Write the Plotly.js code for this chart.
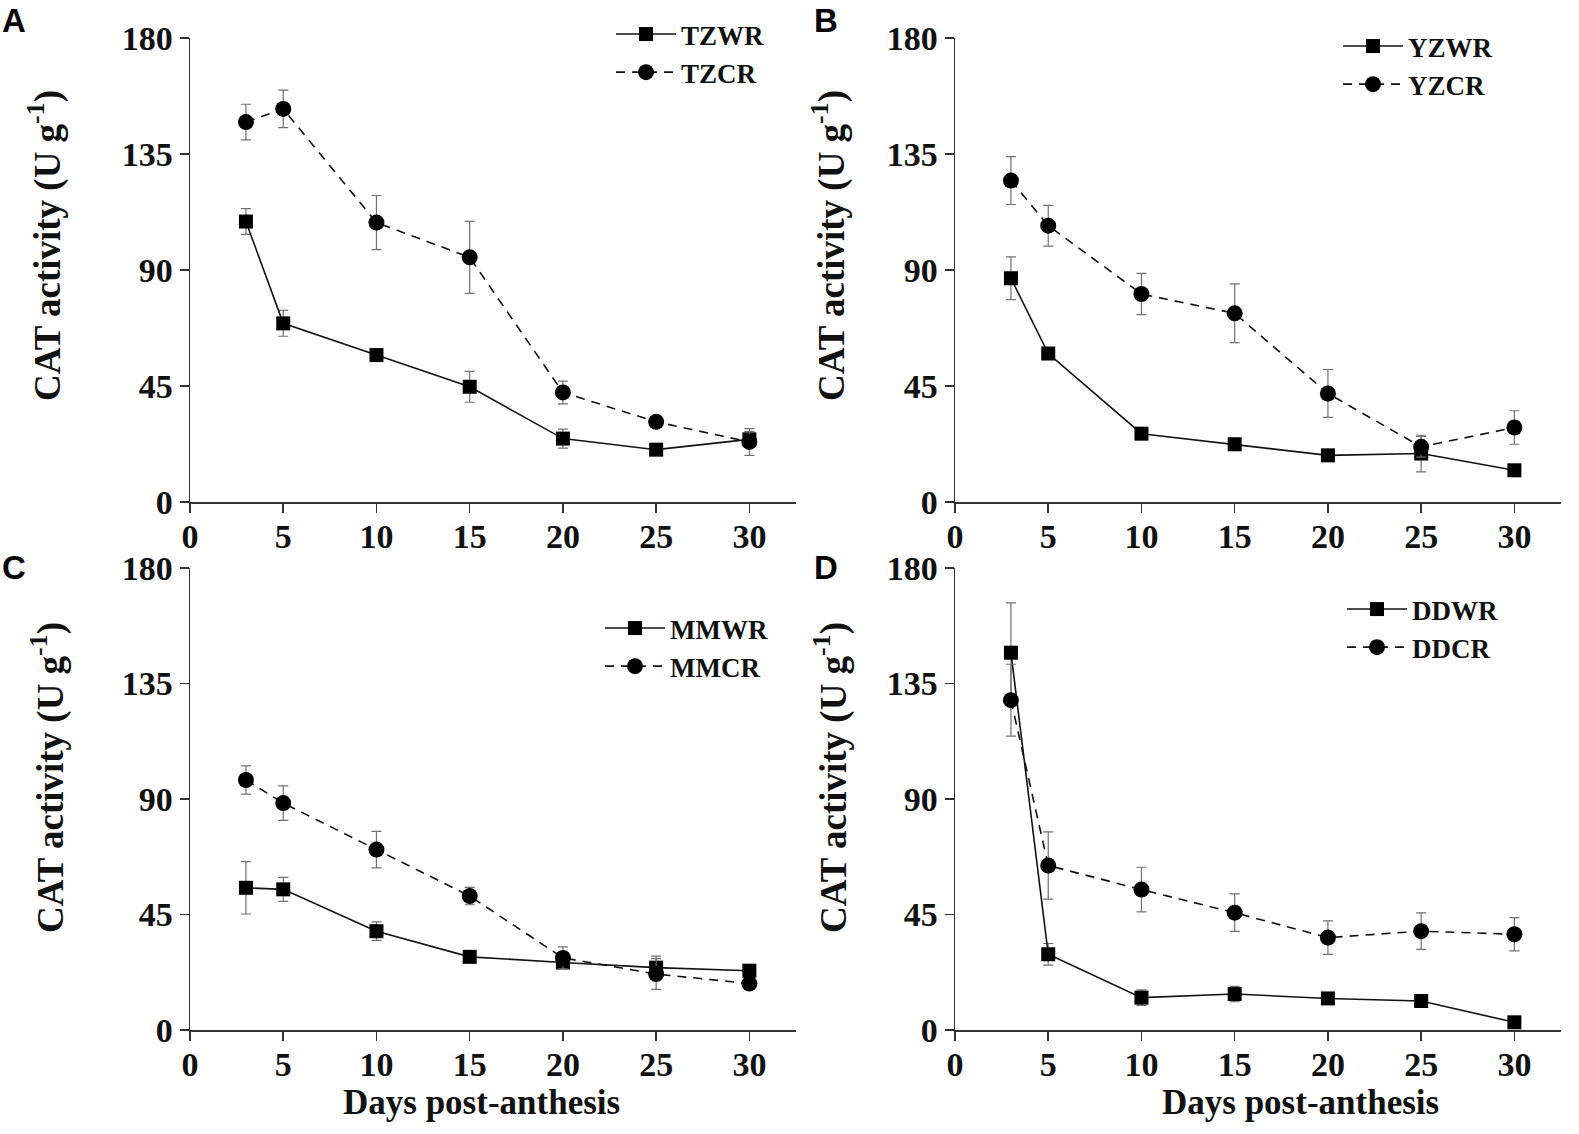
<!DOCTYPE html>
<html>
<head>
<meta charset="utf-8">
<script src="https://cdn.plot.ly/plotly-3.0.1.min.js"></script>
<style>html,body{margin:0;padding:0;background:#fff;}#chart{width:1579px;height:1134px;}</style>
</head>
<body>
<div id="chart"></div>
<script>
// Days post-anthesis
const days = [3, 5, 10, 15, 20, 25, 30];
const xTicks = [0, 5, 10, 15, 20, 25, 30];
const yTicks = [0, 45, 90, 135, 180];

// Panel A
const tzwr = [108.8, 69.3, 57.0, 44.7, 24.6, 20.3, 24.3];
const tzwrErr = [5.0, 5.0, 1.5, 6.0, 3.7, 1.5, 3.0];
const tzcr = [147.4, 152.5, 108.4, 94.9, 42.5, 31.1, 23.3];
const tzcrErr = [6.9, 7.3, 10.5, 14.0, 4.4, 1.5, 5.2];

// Panel B
const yzwr = [86.8, 57.6, 26.5, 22.4, 18.1, 18.8, 12.3];
const yzwrErr = [8.3, 2.0, 2.0, 1.5, 1.5, 7.1, 2.0];
const yzcr = [124.7, 107.2, 80.7, 73.2, 42.1, 21.4, 28.9];
const yzcrErr = [9.3, 7.9, 8.0, 11.4, 9.3, 4.0, 6.5];

// Panel C
const mmwr = [55.4, 54.8, 38.5, 28.5, 26.3, 24.3, 23.1];
const mmwrErr = [10.2, 4.7, 3.6, 1.5, 2.0, 4.5, 2.0];
const mmcr = [97.4, 88.4, 70.3, 52.2, 28.1, 21.8, 18.1];
const mmcrErr = [5.5, 6.7, 7.1, 3.4, 4.3, 6.0, 1.5];

// Panel D
const ddwr = [147.0, 29.5, 12.6, 14.0, 12.3, 11.3, 3.0];
const ddwrErr = [19.4, 4.2, 3.0, 3.0, 2.0, 2.0, 1.5];
const ddcr = [128.5, 64.1, 54.7, 45.7, 36.0, 38.5, 37.3];
const ddcrErr = [14.0, 13.1, 8.7, 7.3, 6.5, 7.1, 6.5];

const SERIF = '"Liberation Serif", "Times New Roman", serif';
const SANS = '"Liberation Sans", Arial, sans-serif';

function wr(name, y, err, xa, ya, lg) {
  return {
    type: 'scatter', mode: 'lines+markers', name: name,
    x: days, y: y, xaxis: xa, yaxis: ya, legend: lg,
    line: {color: '#111', width: 1.6},
    marker: {symbol: 'square', size: 14, color: '#000'},
    error_y: {type: 'data', array: err, visible: true, color: '#707070', thickness: 1.2, width: 5}
  };
}
function cr(name, y, err, xa, ya, lg) {
  return {
    type: 'scatter', mode: 'lines+markers', name: name,
    x: days, y: y, xaxis: xa, yaxis: ya, legend: lg,
    line: {color: '#111', width: 1.6, dash: '9px,7px'},
    marker: {symbol: 'circle', size: 16, color: '#000'},
    error_y: {type: 'data', array: err, visible: true, color: '#707070', thickness: 1.2, width: 5}
  };
}

const data = [
  wr('TZWR', tzwr, tzwrErr, 'x', 'y', 'legend'),
  cr('TZCR', tzcr, tzcrErr, 'x', 'y', 'legend'),
  wr('YZWR', yzwr, yzwrErr, 'x2', 'y2', 'legend2'),
  cr('YZCR', yzcr, yzcrErr, 'x2', 'y2', 'legend2'),
  wr('MMWR', mmwr, mmwrErr, 'x3', 'y3', 'legend3'),
  cr('MMCR', mmcr, mmcrErr, 'x3', 'y3', 'legend3'),
  wr('DDWR', ddwr, ddwrErr, 'x4', 'y4', 'legend4'),
  cr('DDCR', ddcr, ddcrErr, 'x4', 'y4', 'legend4')
];

const W = 1579, H = 1134;
const colL = [190 / W, 796 / W];
const colR = [955 / W, 1561 / W];
const rowT = [1 - 502 / H, 1 - 38 / H];
const rowB = [1 - 1030 / H, 1 - 568 / H];

function xax(domain, anchor) {
  return {
    domain: domain, anchor: anchor, range: [0, 32.5],
    tickmode: 'array', tickvals: xTicks, ticktext: xTicks.map(String),
    showline: true, linecolor: '#333', linewidth: 1.5,
    ticks: 'outside', ticklen: 9, tickwidth: 1.5, tickcolor: '#333',
    ticklabelstandoff: -5,
    showgrid: false, zeroline: false,
    tickfont: {family: SERIF, size: 34, color: '#111', weight: 'bold'}
  };
}
function yax(domain, anchor) {
  return {
    domain: domain, anchor: anchor, range: [0, 180],
    tickmode: 'array', tickvals: yTicks, ticktext: yTicks.map(String),
    showline: true, linecolor: '#333', linewidth: 1.5,
    ticks: 'outside', ticklen: 9, tickwidth: 1.5, tickcolor: '#333',
    showgrid: false, zeroline: false,
    tickfont: {family: SERIF, size: 34, color: '#111', weight: 'bold'}
  };
}
function leg(x, y) {
  return {
    x: x, y: y, xanchor: 'left', yanchor: 'top',
    bgcolor: 'rgba(0,0,0,0)', borderwidth: 0,
    font: {family: SERIF, size: 27, color: '#111', weight: 'bold'},
    itemwidth: 60, tracegroupgap: 0
  };
}

const letters = [
  {text: '<b>A</b>', x: 0, y: 21},
  {text: '<b>B</b>', x: 812, y: 21},
  {text: '<b>C</b>', x: 0, y: 567},
  {text: '<b>D</b>', x: 812, y: 567}
];
const xTitle = '<b>Days post-anthesis</b>';
const yTitle = '<b>CAT activity (U g<sup>-1</sup>)</b>';
const yTitlePos = [[45, 246], [829, 246], [48, 778], [831, 778]];
const xTitlePos = [[481, 1102], [1300, 1102]];

const annotations = letters.map(a => ({
  text: a.text, x: a.x / W, y: 1 - a.y / H, xref: 'paper', yref: 'paper',
  xanchor: 'left', yanchor: 'middle', showarrow: false,
  font: {family: SANS, size: 33, color: '#000'}
})).concat(xTitlePos.map(p => ({
  text: xTitle, x: p[0] / W, y: 1 - p[1] / H, xref: 'paper', yref: 'paper',
  xanchor: 'center', yanchor: 'middle', showarrow: false,
  font: {family: SERIF, size: 35, color: '#111'}
}))).concat(yTitlePos.map(p => ({
  text: yTitle, x: p[0] / W, y: 1 - p[1] / H, xref: 'paper', yref: 'paper',
  xanchor: 'center', yanchor: 'middle', showarrow: false, textangle: -90,
  font: {family: SERIF, size: 37, color: '#111'}
})));

const layout = {
  width: W, height: H,
  margin: {l: 0, r: 0, t: 0, b: 0},
  paper_bgcolor: '#fff', plot_bgcolor: '#fff',
  showlegend: true,
  xaxis: xax(colL, 'y'),
  yaxis: yax(rowT, 'x'),
  xaxis2: xax(colR, 'y2'),
  yaxis2: yax(rowT, 'x2'),
  xaxis3: xax(colL, 'y3'),
  yaxis3: yax(rowB, 'x3'),
  xaxis4: xax(colR, 'y4'),
  yaxis4: yax(rowB, 'x4'),
  legend: leg(611 / W, 1 - 10 / H),
  legend2: leg(1338 / W, 1 - 22 / H),
  legend3: leg(600 / W, 1 - 604 / H),
  legend4: leg(1342 / W, 1 - 585 / H),
  annotations: annotations
};

Plotly.newPlot('chart', data, layout, {displayModeBar: false, staticPlot: true});
</script>
</body>
</html>
